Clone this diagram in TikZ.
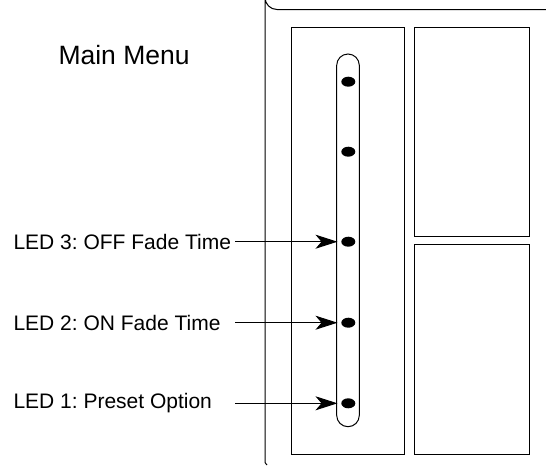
\documentclass[tikz,border=0pt]{standalone}
\usepackage{fontspec}
\setmainfont{Liberation Sans}
\usetikzlibrary{arrows.meta,shapes.geometric}
\frenchspacing
\begin{document}
\begin{tikzpicture}[x=1pt,y=-1pt,line width=1pt,
  ledlabel/.style={anchor=west,inner sep=0pt,font=\fontsize{21}{24}\selectfont},
  led/.style={ellipse,fill=black,minimum width=14pt,minimum height=10pt,inner sep=0pt},
  ptr/.style={-{Stealth[length=22pt,width=14pt,inset=6pt]},shorten >=3.3pt},
  panel/.style={draw,line width=1pt}]
\useasboundingbox (0,0) rectangle (546,467);
% outer frame
\draw (546,9.5) -- (277,9.5) arc[start angle=90,end angle=180,radius=12] -- (265,460) .. controls (265,463) .. (267,465);
% panels
\draw[panel] (291.7,27) rectangle (404.3,454);
\draw[panel] (414.5,27) rectangle (529,236.5);
\draw[panel] (414.5,244) rectangle (529,454);
% slot
\draw[rounded corners=11.3pt] (336.7,54) rectangle (359.3,426.7);
% LEDs
\node[led] (l5) at (348.3,81.7) {};
\node[led] (l4) at (348.3,151.7) {};
\node[led] (l3) at (348.3,241.7) {};
\node[led] (l2) at (348.3,322.7) {};
\node[led] (l1) at (348.3,403.3) {};
% labels
\node[anchor=base west,inner sep=0pt,font=\fontsize{26.5}{30}\selectfont] (title) at (58,64) {Main Menu};
\node[ledlabel] (t3) at (13,241.7) {LED 3: OFF Fade Time};
\node[ledlabel] (t2) at (13,322.7) {LED 2: ON Fade Time};
\node[ledlabel] (t1) at (13,403.3) {LED 1: Preset Option};
\coordinate (s3) at (235,241.7);
\coordinate (s2) at (235,322.7);
\coordinate (s1) at (235,403.3);
\draw[ptr] (s3) -- (l3.west);
\draw[ptr] (s2) -- (l2.west);
\draw[ptr] (s1) -- (l1.west);
\end{tikzpicture}
\end{document}
